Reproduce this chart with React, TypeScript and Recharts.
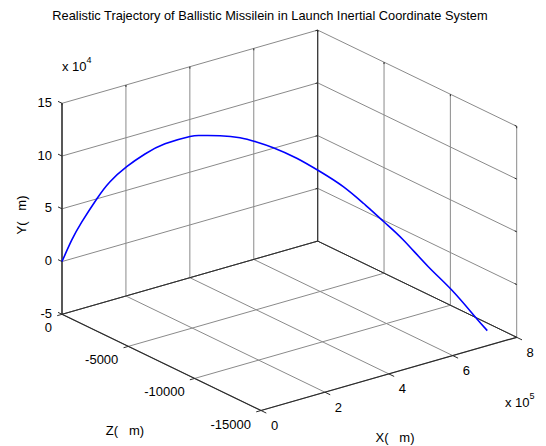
import React from 'react';
import { ComposedChart, XAxis, YAxis, Line, ReferenceLine, ReferenceDot } from 'recharts';

// ---- axis limits and ticks ----
const X_LIM = [0, 800000];
const Y_LIM = [-50000, 150000];
const Z_LIM = [-15000, 0];

const xTicks = [0, 200000, 400000, 600000, 800000];
const xTickLabels = ['0', '2', '4', '6', '8'];
const yTicks = [-50000, 0, 50000, 100000, 150000];
const yTickLabels = ['-5', '0', '5', '10', '15'];
const zTicks = [-15000, -10000, -5000, 0];
const zTickLabels = ['-15000', '-10000', '-5000', '0'];

// ---- trajectory (m) ----
const trajX = [0, 29400, 58000, 98200, 131600, 171000, 211500, 253200, 302200, 324100, 357100, 391800, 418000, 446500, 483200, 518200, 552000, 580300, 589600, 610000, 634600, 667100, 696800, 725600, 740500];
const trajY = [0, 17800, 32800, 52300, 67000, 79700, 90700, 99700, 106800, 107900, 108400, 107600, 104900, 100600, 92800, 82700, 71100, 58000, 53300, 42500, 28900, 7400, -10900, -32200, -43300];
const trajZ = [0, -22, -87, -250, -449, -758, -1160, -1662, -2368, -2724, -3307, -3980, -4531, -5169, -6054, -6963, -7901, -8732, -9014, -9648, -10443, -11540, -12590, -13652, -14218];

const TITLE = 'Realistic Trajectory of Ballistic Missilein in Launch Inertial Coordinate System';

// ---- view (orthographic projection of the axes box onto the page) ----
const W = 546;
const H = 446;
const ORIGIN = { u: 261, v: 410.5 };
const XSPAN = { u: 255.7, v: -73.2 };
const ZSPAN = { u: -199, v: -96.2 };
const YSPAN = { u: 0, v: -211 };
const FONT = '"Liberation Sans", Arial, Helvetica, sans-serif';
const GRID = '#8a8a8a';
const DARK = '#2a2a2a';

type P = { u: number; v: number };
function proj(x: number, y: number, z: number): P {
  const fx = (x - X_LIM[0]) / (X_LIM[1] - X_LIM[0]);
  const fy = (y - Y_LIM[0]) / (Y_LIM[1] - Y_LIM[0]);
  const fz = (z - Z_LIM[0]) / (Z_LIM[1] - Z_LIM[0]);
  return {
    u: ORIGIN.u + fx * XSPAN.u + fy * YSPAN.u + fz * ZSPAN.u,
    v: ORIGIN.v + fx * XSPAN.v + fy * YSPAN.v + fz * ZSPAN.v,
  };
}

const [xmin, xmax] = X_LIM;
const [ymin, ymax] = Y_LIM;
const [zmin, zmax] = Z_LIM;

type Seg = { a: P; b: P; color: string; w: number };
const segs: Seg[] = [];
const grid = (a: P, b: P) => segs.push({ a, b, color: GRID, w: 1 });
const dark = (a: P, b: P, w = 1.2) => segs.push({ a, b, color: DARK, w });

xTicks.forEach((x) => grid(proj(x, ymin, zmin), proj(x, ymin, zmax)));
zTicks.forEach((z) => grid(proj(xmin, ymin, z), proj(xmax, ymin, z)));
xTicks.forEach((x) => grid(proj(x, ymin, zmax), proj(x, ymax, zmax)));
yTicks.forEach((y) => grid(proj(xmin, y, zmax), proj(xmax, y, zmax)));
zTicks.forEach((z) => grid(proj(xmax, ymin, z), proj(xmax, ymax, z)));
yTicks.forEach((y) => grid(proj(xmax, y, zmin), proj(xmax, y, zmax)));
// back edges (overlapping grid lines look darker)
dark(proj(xmin, ymin, zmax), proj(xmax, ymin, zmax), 1);
dark(proj(xmax, ymin, zmin), proj(xmax, ymin, zmax), 1);
dark(proj(xmax, ymin, zmax), proj(xmax, ymax, zmax), 1);
// axes
dark(proj(xmin, ymin, zmax), proj(xmin, ymax, zmax), 1.4);
dark(proj(xmin, ymin, zmin), proj(xmin, ymin, zmax), 1.2);
dark(proj(xmin, ymin, zmin), proj(xmax, ymin, zmin), 1.2);
// tick marks
yTicks.forEach((y) => dark(proj(xmin, y, zmax), proj(xmin, y, zmax + 300), 1));
zTicks.forEach((z) => dark(proj(xmin, ymin, z), proj(xmin - 15000, ymin, z), 1));
xTicks.forEach((x) => dark(proj(x, ymin, zmin), proj(x, ymin, zmin - 400), 1));
// small box ticks on the far edges
xTicks.forEach((x) => dark(proj(x, ymax, zmax), proj(x, ymax - 1800, zmax), 1));
zTicks.forEach((z) => dark(proj(xmax, ymax, z), proj(xmax, ymax - 1800, z), 1));
yTicks.forEach((y) => dark(proj(xmax, y, zmax), proj(xmax - 7000, y, zmax), 1));
yTicks.forEach((y) => dark(proj(xmax, y, zmin), proj(xmax, y, zmin + 150), 1));

const traj = trajX.map((x, i) => {
  const p = proj(x, trajY[i], trajZ[i]);
  return { u: p.u, v: p.v };
});

type Txt = { p: P; text: string; dx: number; dy: number; anchor: 'start' | 'middle' | 'end'; size: number; rotate?: boolean; sup?: string };
const texts: Txt[] = [];
yTicks.forEach((y, i) => texts.push({ p: proj(xmin, y, zmax), text: yTickLabels[i], dx: -10, dy: 3.5, anchor: 'end', size: 13 }));
zTicks.forEach((z, i) => texts.push({ p: proj(xmin, ymin, z), text: zTickLabels[i], dx: -10, dy: 18, anchor: 'end', size: 13 }));
xTicks.forEach((x, i) => texts.push({ p: proj(x, ymin, zmin), text: xTickLabels[i], dx: 13.5, dy: 19.5, anchor: 'middle', size: 13 }));

const textLabel = (t: Txt) => (props: any) => {
  const x = props.cx + t.dx;
  const y = props.cy + t.dy;
  return (
    <text
      x={x}
      y={y}
      textAnchor={t.anchor}
      fontSize={t.size}
      fontFamily={FONT}
      fill="#000"
      transform={t.rotate ? `rotate(-90 ${props.cx} ${props.cy})` : undefined}
    >
      {t.text}
      {t.sup ? (
        <tspan dy={-8} fontSize={9}>
          {t.sup}
        </tspan>
      ) : null}
    </text>
  );
};

const extra: Txt[] = [
  { p: { u: 270, v: 19.5 }, text: TITLE, dx: 0, dy: 0, anchor: 'middle', size: 12.8 },
  { p: { u: 62, v: 71 }, text: 'x 10', dx: 0, dy: 0, anchor: 'start', size: 13, sup: '4' },
  { p: { u: 505, v: 407 }, text: 'x 10', dx: 0, dy: 0, anchor: 'start', size: 13, sup: '5' },
  { p: { u: 21.5, v: 215 }, text: 'Y(\u00a0\u00a0\u00a0m)', dx: 0, dy: 4.5, anchor: 'middle', size: 13, rotate: true },
  { p: { u: 125, v: 430 }, text: 'Z(\u00a0\u00a0\u00a0m)', dx: 0, dy: 4.5, anchor: 'middle', size: 13 },
  { p: { u: 395, v: 437 }, text: 'X(\u00a0\u00a0\u00a0m)', dx: 0, dy: 4.5, anchor: 'middle', size: 13 },
];

export default function App() {
  const all = [...texts, ...extra];
  return (
    <div style={{ position: 'absolute', left: 0, top: 0, width: W, height: H, background: '#fff' }}>
      <ComposedChart width={W} height={H} data={traj} margin={{ top: 0, right: 0, bottom: 0, left: 0 }}>
        <XAxis type="number" dataKey="u" domain={[0, W]} hide allowDataOverflow />
        <YAxis type="number" dataKey="v" domain={[0, H]} reversed hide allowDataOverflow />
        {segs.map((s, i) => (
          <ReferenceLine
            key={'s' + i}
            segment={[
              { x: s.a.u, y: s.a.v },
              { x: s.b.u, y: s.b.v },
            ]}
            stroke={s.color}
            strokeWidth={s.w}
            ifOverflow="visible"
          />
        ))}
        {all.map((t, i) => (
          <ReferenceDot key={'t' + i} x={t.p.u} y={t.p.v} r={0} ifOverflow="visible" shape={textLabel(t)} />
        ))}
        <Line
          type="natural"
          dataKey="v"
          stroke="#0000ff"
          strokeWidth={1.6}
          dot={false}
          activeDot={false}
          isAnimationActive={false}
        />
      </ComposedChart>
    </div>
  );
}
